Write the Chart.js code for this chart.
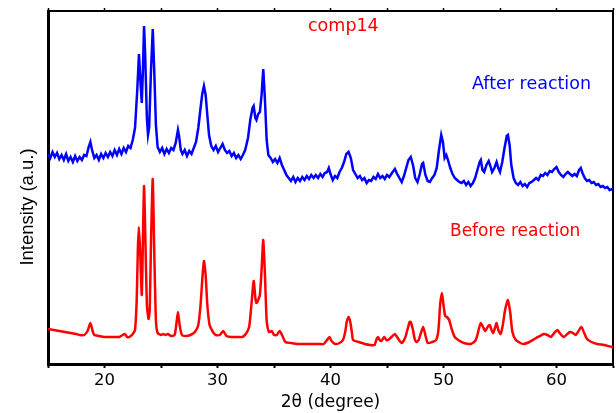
<!DOCTYPE html>
<html><head><meta charset="utf-8">
<script src="https://cdn.jsdelivr.net/npm/chart.js@4"></script>
<style>html,body{margin:0;padding:0;background:#fff}canvas{display:block}</style>
</head><body>
<canvas id="c" width="616" height="413"></canvas>
<script>
// 2-theta positions (degrees) and intensities (a.u.)
const blueX = [15.0,15.2,15.4,15.6,15.8,16.0,16.2,16.4,16.6,16.8,17.0,17.2,17.4,17.6,17.8,18.0,18.2,18.4,18.6,18.75,18.9,19.1,19.3,19.5,19.7,19.9,20.1,20.3,20.5,20.7,20.9,21.1,21.3,21.5,21.7,21.9,22.1,22.3,22.5,22.7,22.9,23.05,23.2,23.3,23.4,23.5,23.6,23.75,23.85,23.95,24.1,24.27,24.4,24.55,24.7,24.9,25.1,25.3,25.5,25.7,25.9,26.1,26.3,26.5,26.6,26.75,26.9,27.1,27.3,27.5,27.7,27.9,28.1,28.3,28.5,28.65,28.8,28.95,29.1,29.25,29.45,29.65,29.85,30.05,30.25,30.45,30.65,30.85,31.05,31.25,31.45,31.65,31.85,32.05,32.25,32.45,32.7,32.9,33.1,33.2,33.35,33.45,33.6,33.75,33.9,34.05,34.2,34.35,34.5,34.7,34.9,35.1,35.3,35.5,35.7,35.9,36.1,36.3,36.5,36.7,36.9,37.1,37.3,37.5,37.7,37.9,38.1,38.3,38.5,38.7,38.9,39.1,39.3,39.5,39.7,39.85,40.0,40.2,40.4,40.6,40.8,41.0,41.2,41.4,41.6,41.8,42.0,42.2,42.4,42.6,42.8,43.0,43.2,43.4,43.6,43.8,44.0,44.2,44.4,44.6,44.8,45.0,45.2,45.5,45.7,45.9,46.1,46.3,46.5,46.7,46.9,47.1,47.3,47.5,47.7,47.9,48.1,48.2,48.4,48.6,48.8,49.0,49.2,49.4,49.6,49.8,49.95,50.1,50.25,50.4,50.6,50.8,51.0,51.2,51.4,51.6,51.8,52.0,52.2,52.4,52.6,52.8,53.0,53.2,53.3,53.45,53.6,53.8,54.0,54.15,54.3,54.5,54.7,54.85,55.0,55.2,55.4,55.6,55.7,55.85,56.0,56.2,56.4,56.6,56.8,57.0,57.2,57.4,57.6,57.8,58.0,58.2,58.4,58.6,58.8,59.0,59.2,59.4,59.6,59.8,60.0,60.2,60.4,60.6,60.8,61.0,61.2,61.4,61.6,61.8,62.0,62.15,62.3,62.5,62.7,62.9,63.1,63.3,63.5,63.7,63.9,64.1,64.3,64.5,64.7,65.0];
const blueY = [210,206,212,207,211,205,209,204,210,203,207,202,208,203,207,204,209,208,217,222,214,206,209,204,210,206,211,207,212,208,214,209,215,210,216,212,218,216,224,236,274,310,279,261,294,338,309,246,229,236,289,335,294,239,217,212,216,210,215,211,216,214,221,234,228,214,210,214,208,213,210,216,222,236,256,270,278,269,249,229,218,214,218,212,216,220,214,211,213,208,211,206,209,205,209,214,226,244,256,258,246,244,250,252,269,295,264,224,209,206,202,205,201,206,199,194,189,186,183,187,182,186,183,187,184,188,185,189,186,189,186,190,187,191,192,196,190,184,188,186,192,196,202,210,212,206,194,190,186,188,184,186,181,184,183,187,185,190,186,188,185,189,187,192,195,190,186,182,188,196,204,207,199,186,182,190,200,201,189,183,182,186,189,196,214,229,222,206,209,204,196,190,186,184,182,181,183,179,182,178,181,186,194,202,204,194,192,199,203,198,192,196,202,196,192,202,216,228,229,219,199,186,181,179,182,178,180,177,181,182,184,186,184,189,188,191,189,193,192,195,197,192,189,187,190,192,190,188,190,188,194,196,191,186,183,184,181,182,179,180,177,178,176,177,174,175];

const redX = [15.0,15.5,16.0,16.5,17.0,17.5,17.8,18.2,18.5,18.75,18.95,19.1,19.5,20.0,20.5,21.0,21.3,21.6,21.8,22.0,22.2,22.5,22.7,22.85,22.95,23.04,23.15,23.3,23.4,23.5,23.6,23.75,23.9,24.0,24.12,24.27,24.4,24.55,24.7,25.0,25.2,25.4,25.6,25.9,26.2,26.35,26.5,26.65,26.85,27.2,27.6,28.0,28.3,28.5,28.65,28.8,28.95,29.1,29.3,29.6,29.85,30.2,30.5,30.8,31.2,31.8,32.2,32.5,32.8,33.0,33.2,33.35,33.45,33.6,33.75,33.9,34.05,34.2,34.35,34.55,34.8,35.0,35.25,35.5,35.75,36.0,36.5,37.2,38.0,39.0,39.4,39.7,39.9,40.1,40.4,40.8,41.1,41.3,41.45,41.6,41.75,41.9,42.0,42.5,43.05,43.5,43.9,44.05,44.2,44.35,44.5,44.75,44.95,45.1,45.4,45.7,45.95,46.3,46.6,46.8,47.0,47.1,47.3,47.45,47.6,47.8,48.0,48.2,48.35,48.6,49.0,49.35,49.55,49.7,49.86,50.0,50.15,50.3,50.5,50.75,51.0,51.3,51.8,52.4,52.8,53.0,53.15,53.3,53.5,53.7,53.9,54.1,54.25,54.4,54.55,54.7,54.85,55.05,55.25,55.45,55.7,55.9,56.1,56.4,56.8,57.1,57.6,58.2,58.9,59.2,59.5,59.8,60.07,60.35,60.65,60.95,61.2,61.45,61.7,61.95,62.2,62.45,62.7,63.1,63.6,64.2,64.9,65.0];
const redY = [35,34,33,32,31,30,29,29,33,41,33,29,28,27,27,27,27,29,30,27,27,30,34,64,114,137,114,69,124,178,134,59,45,54,124,185,114,44,31,29,30,29,30,28,29,39,52,39,29,28,29,32,39,59,84,103,89,59,39,32,29,29,33,28,27,27,27,30,37,59,83,66,61,64,69,94,124,89,44,32,33,29,29,33,28,22,21,20,20,20,20,24,27,23,20,21,24,32,43,47,42,31,24,22,20,19,19,24,27,24,23,27,24,24,27,30,26,21,26,34,42,42,34,25,22,24,31,37,31,21,22,24,34,59,71,59,48,47,44,34,27,24,21,20,23,29,36,41,37,33,37,39,34,31,36,41,34,30,39,54,64,52,32,24,21,20,22,26,30,29,27,31,34,30,27,30,32,31,29,33,37,31,25,22,20,19,17,17];

const xRange = [15, 65];
const yRange = [0, 353];
const xTickLabels = [20, 30, 40, 50, 60];
const seriesNames = ['After reaction', 'Before reaction'];
const chartTitle = 'comp14';
const xTitle = '2\u03B8 (degree)';
const yTitle = 'Intensity (a.u.)';

const textPlugin = {
  id: 'texts',
  afterDraw(chart) {
    const c = chart.ctx;
    c.save();
    c.textAlign = 'left';
    c.textBaseline = 'alphabetic';
    c.font = '17.5px "DejaVu Sans"';
    c.fillStyle = '#ff0000';
    c.fillText(chartTitle, 308, 31);
    c.fillStyle = '#0000ff';
    c.fillText(seriesNames[0], 472, 89);
    c.font = '17px "DejaVu Sans"';
    c.fillStyle = '#ff0000';
    c.fillText(seriesNames[1], 450, 236);
    c.translate(28, 207);
    c.rotate(-Math.PI / 2);
    c.textAlign = 'center';
    c.textBaseline = 'middle';
    c.font = '18.5px "Liberation Sans"';
    c.fillStyle = '#000';
    c.fillText(yTitle, 0, 0);
    c.restore();
  }
};

new Chart(document.getElementById('c'), {
  type: 'line',
  data: {
    datasets: [
      { label: seriesNames[0], data: blueX.map((x, i) => ({ x, y: blueY[i] })), borderColor: '#0000ff', borderWidth: 2.5, pointRadius: 0, tension: 0, fill: false },
      { label: seriesNames[1], data: redX.map((x, i) => ({ x, y: redY[i] })), borderColor: '#ff0000', borderWidth: 2.5, pointRadius: 0, tension: 0.2, fill: false }
    ]
  },
  options: {
    responsive: false,
    animation: false,
    layout: { padding: 0 },
    plugins: { legend: { display: false }, tooltip: { enabled: false } },
    scales: {
      x: {
        type: 'linear', position: 'bottom', min: xRange[0], max: xRange[1],
        afterFit(s) { s.height = 49; },
        ticks: { stepSize: 5, autoSkip: false, maxRotation: 0, color: '#000', padding: 3,
          font: { family: 'DejaVu Sans', size: 16.5 },
          callback: v => xTickLabels.includes(v) ? String(v) : '' },
        grid: { drawOnChartArea: false, drawTicks: true, tickLength: 4, tickColor: '#000', tickWidth: 2 },
        border: { display: true, color: '#000', width: 3 },
        title: { display: true, text: xTitle, color: '#000', font: { family: 'DejaVu Sans', size: 17 }, padding: { top: 0, bottom: 0 } }
      },
      x2: {
        type: 'linear', position: 'top', min: xRange[0], max: xRange[1],
        afterFit(s) { s.height = 11; },
        ticks: { stepSize: 5, display: false },
        grid: { drawOnChartArea: false, drawTicks: true, tickLength: 3, tickColor: '#000', tickWidth: 1.5 },
        border: { display: true, color: '#000', width: 2 }
      },
      y: {
        type: 'linear', position: 'left', min: yRange[0], max: yRange[1],
        afterFit(s) { s.width = 48; },
        ticks: { display: false },
        grid: { display: false },
        border: { display: true, color: '#000', width: 3 }
      },
      y2: {
        type: 'linear', position: 'right', min: yRange[0], max: yRange[1],
        afterFit(s) { s.width = 1; },
        ticks: { display: false },
        grid: { display: false },
        border: { display: true, color: '#000', width: 2 }
      }
    }
  },
  plugins: [textPlugin]
});
</script>
</body></html>
